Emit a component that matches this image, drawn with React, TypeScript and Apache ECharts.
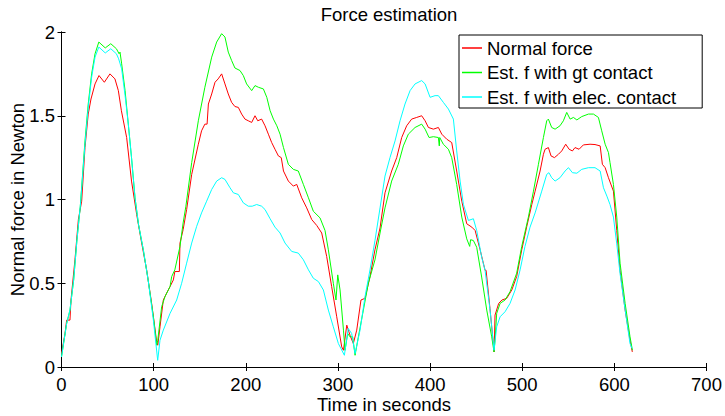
import React, { useEffect, useRef } from "react";
import * as echarts from "echarts";

const TITLE = "Force estimation";
const X_NAME = "Time in seconds";
const Y_NAME = "Normal force in Newton";
const SERIES_NAMES = ["Normal force", "Est. f with gt contact", "Est. f with elec. contact"];
const SERIES_COLORS = ["#ff0000", "#00ff00", "#00ffff"];

// [time in s, force in N]
const normalForce: [number, number][] = [
  [0, 0.08], [3.8, 0.2], [5.6, 0.28], [9.2, 0.28], [10.3, 0.4], [14.6, 0.64], [18.3, 0.88], [21.9, 0.99],
  [25.5, 1.31], [29, 1.51], [32, 1.6], [36.4, 1.69], [40.7, 1.74], [46.5, 1.7], [52.6, 1.75], [58, 1.72],
  [61.7, 1.65], [65, 1.53], [70.7, 1.37], [76, 1.11], [81.6, 0.91], [87, 0.74], [92.4, 0.58], [97.8, 0.38],
  [103.3, 0.15], [104.5, 0.13], [106.9, 0.24], [110.5, 0.4], [114, 0.44], [117.8, 0.48], [121.4, 0.52],
  [123, 0.57], [127.9, 0.57], [128.6, 0.74], [132, 0.82], [135.8, 0.94], [141.3, 1.15], [148.5, 1.33],
  [152, 1.41], [155.6, 1.45], [158, 1.45], [159.4, 1.57], [163, 1.63], [166.6, 1.7], [170, 1.72],
  [173.8, 1.75], [177.4, 1.69], [181, 1.63], [184.6, 1.58], [188.2, 1.555], [191.9, 1.55], [195.5, 1.51],
  [199.1, 1.48], [202.7, 1.47], [206.4, 1.46], [210, 1.5], [213, 1.47], [217.2, 1.48], [220.9, 1.44],
  [224.5, 1.39], [228.1, 1.34], [231.7, 1.3], [235.4, 1.26], [238.5, 1.25], [240.9, 1.17], [246.2, 1.11],
  [251.6, 1.08], [255.3, 1.09], [260.7, 1.01], [266.1, 0.95], [271.6, 0.88], [277, 0.845], [282.4, 0.8],
  [287.8, 0.66], [293.2, 0.48], [298.7, 0.3], [304.1, 0.12], [306, 0.1], [309.6, 0.25], [313.1, 0.19],
  [316.7, 0.14], [320.4, 0.22], [325, 0.4], [329.4, 0.41], [334.8, 0.54], [340.2, 0.7], [345.7, 0.83],
  [351.1, 1.04], [358.3, 1.17], [363.8, 1.25], [369.2, 1.37], [374.6, 1.44], [380, 1.48], [385.5, 1.49],
  [390.9, 1.5], [394.6, 1.47], [398.2, 1.43], [403.6, 1.42], [409, 1.43], [412.7, 1.39], [418.1, 1.36],
  [423.5, 1.34], [428.9, 1.17], [434.4, 0.99], [439.8, 0.855], [445.3, 0.835], [448.9, 0.815], [454.3, 0.7],
  [459.7, 0.577], [460.8, 0.577], [465, 0.35], [469.5, 0.09], [470.5, 0.31], [474.5, 0.38], [478, 0.4],
  [483.2, 0.41], [488.7, 0.46], [494, 0.54], [499.5, 0.7], [505, 0.84], [510.4, 0.97], [514, 1.05],
  [519.4, 1.17], [523, 1.27], [524.8, 1.3], [528.4, 1.31], [531.3, 1.26], [535, 1.25], [539.3, 1.27],
  [542.9, 1.29], [547.2, 1.33], [550.9, 1.3], [554.5, 1.29], [557.3, 1.31], [561.7, 1.3], [566.4, 1.326],
  [573.6, 1.33], [579, 1.328], [584.6, 1.32], [587, 1.21], [590, 1.19], [593.6, 1.13], [599, 1.05],
  [602.6, 0.815], [606.2, 0.577], [611.7, 0.34], [617, 0.16], [619.5, 0.09],
];

const gtContactForce: [number, number][] = [
  [0, 0.06], [5.6, 0.26], [9.2, 0.34], [13.2, 0.52], [16.8, 0.76], [20.4, 0.96], [25.5, 1.35], [29, 1.57],
  [32.7, 1.75], [36.4, 1.87], [40.5, 1.94], [47.5, 1.905], [53.5, 1.93], [59.6, 1.9], [62.5, 1.87],
  [63.5, 1.88], [65.3, 1.81], [69, 1.65], [72.5, 1.45], [76, 1.25], [79.8, 1.01], [83.6, 0.85], [88.8, 0.7],
  [94, 0.52], [99.7, 0.3], [103.3, 0.13], [104.5, 0.16], [108.7, 0.36], [112.3, 0.42], [117.8, 0.48],
  [119.6, 0.54], [123, 0.58], [128.6, 0.72], [132, 0.86], [135, 0.96], [141.3, 1.22], [148.5, 1.47],
  [155.6, 1.67], [163, 1.85], [168.4, 1.94], [173.8, 1.99], [177.4, 1.97], [181, 1.88], [184.6, 1.83],
  [188.2, 1.785], [193.7, 1.77], [197.3, 1.74], [200.9, 1.69], [206.4, 1.65], [210, 1.68], [213.7, 1.67],
  [219.1, 1.66], [222.8, 1.61], [226.4, 1.53], [230, 1.48], [233.7, 1.44], [237.2, 1.39], [240.9, 1.31],
  [246.2, 1.21], [251.6, 1.18], [257, 1.17], [262.5, 1.09], [268, 1.01], [273.3, 0.93], [280.6, 0.89],
  [286, 0.815], [289.6, 0.7], [295, 0.5], [297.9, 0.4], [299.8, 0.55], [302.3, 0.46], [306, 0.22],
  [307.7, 0.1], [310.6, 0.2], [313.1, 0.18], [316, 0.18], [318.6, 0.07], [322.2, 0.18], [327.6, 0.34],
  [333, 0.5], [340.2, 0.64], [345.7, 0.8], [351.1, 0.95], [358.3, 1.11], [365.5, 1.21], [371, 1.32],
  [376.4, 1.39], [383.7, 1.43], [390.9, 1.45], [394.6, 1.42], [398.9, 1.37], [403.6, 1.375], [409, 1.37],
  [410, 1.32], [410.5, 1.37], [414.4, 1.33], [419.9, 1.3], [423.5, 1.25], [428.9, 1.09], [434.4, 0.895],
  [439.8, 0.765], [443, 0.72], [444, 0.76], [447, 0.755], [450.6, 0.715], [456, 0.537], [461.5, 0.34],
  [466.9, 0.18], [469.4, 0.09], [470.5, 0.16], [472.3, 0.32], [476, 0.38], [481.4, 0.4], [486.8, 0.45],
  [494, 0.56], [499.5, 0.72], [506.7, 0.895], [512.2, 1.05], [517.6, 1.21], [523, 1.37], [526.6, 1.47],
  [528.4, 1.48], [532, 1.43], [535.7, 1.42], [541, 1.44], [544.7, 1.47], [548.3, 1.52], [552, 1.48],
  [555.6, 1.49], [559.3, 1.475], [564.6, 1.495], [571.9, 1.51], [577.3, 1.51], [582.7, 1.49],
  [586.3, 1.41], [590, 1.33], [593.6, 1.28], [595.3, 1.22], [599, 1.09], [602.6, 0.895], [606.2, 0.62],
  [611.7, 0.38], [617, 0.18], [619.6, 0.1],
];

const elecContactForce: [number, number][] = [
  [0, 0.06], [5.6, 0.26], [9.2, 0.34], [13.2, 0.52], [16.8, 0.76], [20.4, 0.96], [25.5, 1.33], [29, 1.55],
  [32.7, 1.73], [36.4, 1.85], [40.5, 1.91], [47.5, 1.875], [53.5, 1.9], [59.6, 1.87], [62, 1.84],
  [65.3, 1.78], [69, 1.62], [72.5, 1.45], [76, 1.25], [79.8, 1.01], [83.6, 0.85], [88.8, 0.7], [94, 0.52],
  [99.7, 0.28], [104.4, 0.04], [106.9, 0.16], [110.5, 0.22], [117.8, 0.32], [125, 0.4], [130.4, 0.5],
  [135.8, 0.62], [141.3, 0.74], [146.7, 0.84], [152, 0.92], [157.5, 0.99], [163, 1.06], [168.4, 1.11],
  [173.8, 1.13], [177.4, 1.12], [182.9, 1.07], [186.5, 1.04], [191.9, 1.03], [197.3, 0.98], [202.7, 0.96],
  [207, 0.96], [211.8, 0.97], [217.2, 0.96], [220.9, 0.94], [226.4, 0.885], [231.7, 0.835], [237.2, 0.8],
  [242.6, 0.74], [249.8, 0.69], [257, 0.68], [262.5, 0.64], [268, 0.58], [273.3, 0.53], [278.8, 0.51],
  [284.2, 0.46], [289.6, 0.34], [295, 0.24], [300.5, 0.14], [307, 0.07], [311.2, 0.23], [314.9, 0.2],
  [318.6, 0.08], [324, 0.22], [329.4, 0.42], [334.8, 0.58], [340.2, 0.755], [345.7, 0.95], [351.1, 1.14],
  [356.5, 1.25], [362, 1.35], [367.4, 1.47], [372.8, 1.57], [378.3, 1.65], [383.7, 1.69], [390.9, 1.71],
  [394.6, 1.69], [400, 1.61], [405.4, 1.62], [409, 1.62], [414.4, 1.58], [419.9, 1.54], [425.3, 1.48],
  [428.9, 1.29], [432.6, 1.11], [436.2, 0.97], [441.6, 0.875], [447, 0.885], [450.6, 0.815], [456, 0.656],
  [459.7, 0.577], [465.1, 0.34], [469.4, 0.1], [472.3, 0.24], [476, 0.3], [481.4, 0.33], [486.8, 0.38],
  [492.3, 0.46], [497.7, 0.58], [503, 0.72], [508.5, 0.835], [514, 0.92], [521.2, 1.05], [526.6, 1.15],
  [529, 1.16], [532, 1.13], [535.7, 1.11], [541, 1.13], [546.5, 1.17], [550.2, 1.19], [554.5, 1.16],
  [559.3, 1.157], [564.6, 1.18], [571.9, 1.19], [579, 1.19], [584.6, 1.17], [588.2, 1.07], [591.9, 1.02],
  [595.3, 0.97], [599, 0.895], [602.6, 0.735], [606.2, 0.557], [611.7, 0.34], [617, 0.14], [619.2, 0.11],
];

const X_MIN = 0;
const X_MAX = 700;
const X_STEP = 100;
const Y_MIN = 0;
const Y_MAX = 2;
const Y_STEP = 0.5;

const FONT = "'Liberation Sans', Arial, Helvetica, sans-serif";
const FS = 18.5;

export default function App() {
  const ref = useRef<HTMLDivElement>(null);

  useEffect(() => {
    if (!ref.current) return;
    const chart = echarts.init(ref.current, undefined, { renderer: "svg" });
    const allData = [normalForce, gtContactForce, elecContactForce];

    const baseAxisLine = { show: true, lineStyle: { color: "#000", width: 1 } };
    const baseTick = { show: true, inside: true, length: 4, lineStyle: { color: "#000", width: 1 } };

    chart.setOption({
      animation: false,
      backgroundColor: "#ffffff",
      textStyle: { fontFamily: FONT },
      title: {
        text: TITLE,
        left: 384,
        textAlign: "center",
        top: 0,
        textStyle: { fontFamily: FONT, fontSize: FS, fontWeight: "normal", color: "#000" },
      },
      grid: {
        left: 61.5,
        right: 18.5,
        top: 32,
        bottom: 49,
        containLabel: false,
        outerBoundsMode: "none",
      },
      legend: {
        data: SERIES_NAMES,
        orient: "vertical",
        left: 459,
        top: 35,
        padding: [3, 26, 1, 3],
        itemGap: 4.5,
        itemWidth: 20,
        itemHeight: 1.5,
        icon: "rect",
        backgroundColor: "#ffffff",
        borderColor: "#000",
        borderWidth: 1,
        borderRadius: 0,
        textStyle: { fontFamily: FONT, fontSize: FS, color: "#000", lineHeight: 20 },
      },
      xAxis: [
        {
          type: "value",
          min: X_MIN,
          max: X_MAX,
          interval: X_STEP,
          name: X_NAME,
          nameLocation: "middle",
          nameGap: 28,
          nameMoveOverlap: false,
          nameTextStyle: { fontFamily: FONT, fontSize: FS, color: "#000" },
          axisLine: baseAxisLine,
          axisTick: baseTick,
          axisLabel: { fontFamily: FONT, fontSize: FS, color: "#000", margin: 8 },
          splitLine: { show: false },
        },
        {
          type: "value",
          position: "top",
          min: X_MIN,
          max: X_MAX,
          interval: X_STEP,
          axisLine: baseAxisLine,
          axisTick: baseTick,
          axisLabel: { show: false },
          splitLine: { show: false },
        },
      ],
      yAxis: [
        {
          type: "value",
          min: Y_MIN,
          max: Y_MAX,
          interval: Y_STEP,
          name: Y_NAME,
          nameLocation: "middle",
          nameGap: 35,
          nameMoveOverlap: false,
          nameTextStyle: { fontFamily: FONT, fontSize: FS, color: "#000" },
          axisLine: baseAxisLine,
          axisTick: baseTick,
          axisLabel: { fontFamily: FONT, fontSize: FS, color: "#000", margin: 6.5, padding: [8, 0, 0, 0] },
          splitLine: { show: false },
        },
        {
          type: "value",
          position: "right",
          min: Y_MIN,
          max: Y_MAX,
          interval: Y_STEP,
          axisLine: baseAxisLine,
          axisTick: baseTick,
          axisLabel: { show: false },
          splitLine: { show: false },
        },
      ],
      series: SERIES_NAMES.map((name, i) => ({
        name,
        type: "line",
        data: allData[i],
        xAxisIndex: 0,
        yAxisIndex: 0,
        showSymbol: false,
        symbol: "none",
        smooth: false,
        lineStyle: { color: SERIES_COLORS[i], width: 1 },
        itemStyle: { color: SERIES_COLORS[i] },
        emphasis: { disabled: true },
      })),
    });

    return () => chart.dispose();
  }, []);

  return <div ref={ref} style={{ width: 725, height: 416, position: "absolute", left: 0, top: 0 }} />;
}
